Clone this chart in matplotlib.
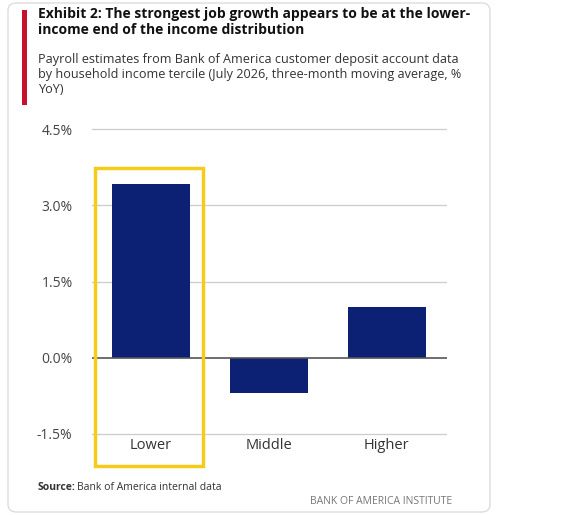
import matplotlib
matplotlib.use("Agg")
import matplotlib.pyplot as plt
from matplotlib.patches import Rectangle, FancyBboxPatch

categories = ["Lower", "Middle", "Higher"]
values = [3.42, -0.70, 0.99]
yticks = [-1.5, 0.0, 1.5, 3.0, 4.5]
ytick_labels = ["-1.5%", "0.0%", "1.5%", "3.0%", "4.5%"]

W, H = 567, 515
fig = plt.figure(figsize=(W/100, H/100), dpi=100)
plt.rcParams['font.family'] = ['Open Sans', 'DejaVu Sans']

card = FancyBboxPatch((8/W, 3/H), 482/W, 509/H, boxstyle="round,pad=0,rounding_size=0.015",
                      transform=fig.transFigure, fc="none", ec="#dddddd", lw=1, zorder=-5)
fig.patches.append(card)
fig.patches.append(Rectangle((22/W, 1-105/H), 5/W, 95/H, transform=fig.transFigure,
                             fc="#c8102e", ec="none", zorder=-5))
fig.text(38/W, 1-22/H, "Exhibit 2: The strongest job growth appears to be at the lower-\nincome end of the income distribution",
         fontsize=10, fontweight="bold", va="center", linespacing=1.25, color="#111111")
fig.text(38/W, 1-75/H, "Payroll estimates from Bank of America customer deposit account data\nby household income tercile (July 2026, three-month moving average, %\nYoY)",
         fontsize=9.1, va="center", linespacing=1.2, color="#333333")

ax = fig.add_axes([92/W, (H-466)/H, (447-92)/W, (466-120)/H])
ax.patch.set_alpha(0)
x = list(range(len(categories)))
ax.bar(x, values, width=0.66, color="#0c2074", zorder=3)
ax.set_xlim(-0.5, 2.51)
ax.set_ylim(-2.13, 4.68)
ax.set_yticks(yticks)
ax.set_yticklabels(ytick_labels, fontsize=10, color="#444444")
ax.set_xticks(x)
ax.set_xticklabels(categories, fontsize=10.5, color="#333333")
ax.tick_params(length=0, axis="y", pad=14)
ax.tick_params(length=0, axis="x", pad=-20)
for t in yticks:
    ax.axhline(t, color="#cccccc" if t != 0 else "#555555", lw=0.9 if t != 0 else 1.2, zorder=2 if t else 4)
for s in ax.spines.values():
    s.set_visible(False)
ax.add_patch(Rectangle((-0.475, -2.13), 0.915, 5.86, fill=False, ec="#f5cc1b", lw=2.5,
                       clip_on=False, zorder=5))

fig.text(38/W, 1-487/H, "Source:", fontsize=7.5, fontweight="bold", va="center", color="#333333")
fig.text(77/W, 1-487/H, "Bank of America internal data", fontsize=7.5, va="center", color="#333333")
fig.text(452/W, 1-502/H, "BANK OF AMERICA INSTITUTE", fontsize=7.5, va="center", ha="right", color="#777777")
fig.savefig("out.png", dpi=100)
